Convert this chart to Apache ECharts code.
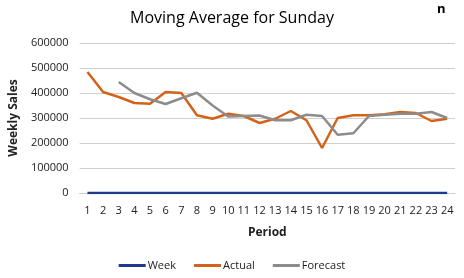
<!DOCTYPE html>
<html><head><meta charset="utf-8">
<script src="https://cdn.jsdelivr.net/npm/echarts@6/dist/echarts.min.js"></script>
<style>html,body{margin:0;padding:0;background:#fff}#c{width:464px;height:278px}</style>
</head><body><div id="c"></div>
<script>
const periods = ['1','2','3','4','5','6','7','8','9','10','11','12','13','14','15','16','17','18','19','20','21','22','23','24'];
const week = [1,2,3,4,5,6,7,8,9,10,11,12,13,14,15,16,17,18,19,20,21,22,23,24];
const actual = [484000,404000,384000,360000,357000,404000,400000,311000,297000,317000,308000,280000,297000,328000,291000,180000,300000,311000,311000,315000,324000,320000,288000,297000];
const forecast = [null,null,444000,400000,375000,356000,379000,401000,350000,306000,308000,310000,291000,291000,313000,308000,233000,239000,308000,313000,317000,317000,324000,300000];
const yTicks = [0,100000,200000,300000,400000,500000,600000];

const F = '"Open Sans", sans-serif';
const chart = echarts.init(document.getElementById('c'));
chart.setOption({
  animation:false,
  title:{text:'Moving Average for Sunday',left:'center',top:5,textStyle:{fontFamily:F,fontSize:16,fontWeight:'normal',color:'#000'}},
  graphic:[{type:'text',left:437,top:3,style:{text:'n',font:'bold 13px "Open Sans", sans-serif',fill:'#000'}}],
  legend:{bottom:2,left:'center',itemWidth:27,itemHeight:3,itemGap:18,icon:'rect',
    textStyle:{fontFamily:F,fontSize:11,color:'#222',padding:[0,0,0,-3]},data:['Week','Actual','Forecast']},
  grid:{left:76,right:9,top:43,bottom:85},
  xAxis:{type:'category',data:periods,boundaryGap:true,
    name:'Period',nameLocation:'middle',nameGap:34,nameTextStyle:{fontFamily:F,fontSize:12,fontWeight:'bold',color:'#222'},
    axisLine:{lineStyle:{color:'#d0d0d0',width:1}},axisTick:{show:false},
    axisLabel:{fontFamily:F,fontSize:11,color:'#222',interval:0,margin:12}},
  yAxis:{type:'value',min:0,max:600000,interval:100000,
    name:'Weekly Sales',nameLocation:'middle',nameGap:54,nameTextStyle:{fontFamily:F,fontSize:12,fontWeight:'bold',color:'#222'},
    axisLine:{show:false},axisTick:{show:false},
    axisLabel:{fontFamily:F,fontSize:11,color:'#222',margin:11,formatter:v=>yTicks.includes(v)?String(v):''},
    splitLine:{lineStyle:{color:'#d0d0d0',width:1}}},
  series:[
    {name:'Week',type:'line',data:week,showSymbol:false,lineStyle:{color:'#1f3a8a',width:2.5},itemStyle:{color:'#1f3a8a'}},
    {name:'Actual',type:'line',data:actual,showSymbol:false,lineStyle:{color:'#d4631a',width:2.5},itemStyle:{color:'#d4631a'}},
    {name:'Forecast',type:'line',data:forecast,showSymbol:false,lineStyle:{color:'#8c8c8c',width:2.5},itemStyle:{color:'#8c8c8c'}}
  ]
});
</script></body></html>
